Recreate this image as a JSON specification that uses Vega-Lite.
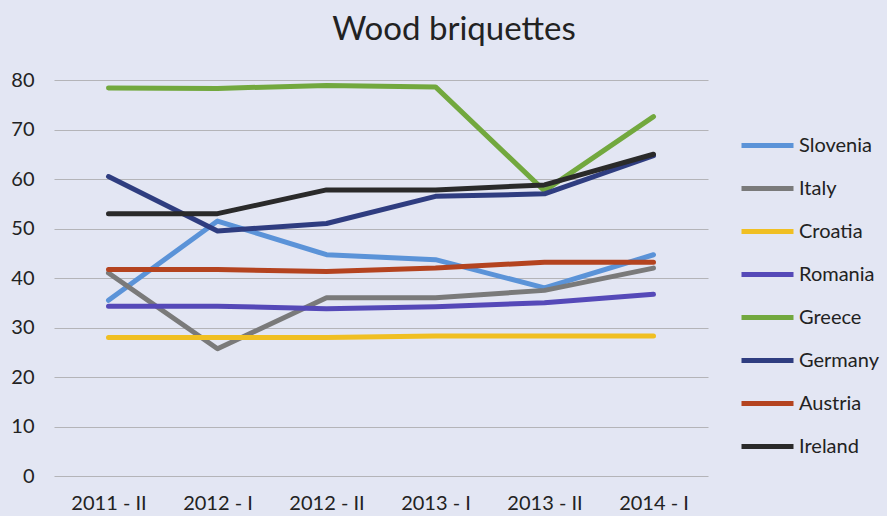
{
  "$schema": "https://vega.github.io/schema/vega-lite/v6.json",
  "autosize": {"type": "none"},
  "width": 654,
  "height": 396,
  "padding": {"left": 54, "top": 80, "right": 179, "bottom": 40},
  "background": "#e3e6f3",
  "title": {
    "text": "Wood briquettes",
    "font": "Lato",
    "fontSize": 33,
    "fontWeight": "normal",
    "color": "#222222",
    "anchor": "middle",
    "dx": 73,
    "offset": 23
  },
  "config": {
    "view": {"stroke": null},
    "font": "Lato"
  },
  "data": {
    "values": [
      {"period": "2011 - II", "country": "Slovenia", "value": 35.5},
      {"period": "2012 - I", "country": "Slovenia", "value": 51.5},
      {"period": "2012 - II", "country": "Slovenia", "value": 44.7},
      {"period": "2013 - I", "country": "Slovenia", "value": 43.7},
      {"period": "2013 - II", "country": "Slovenia", "value": 38},
      {"period": "2014 - I", "country": "Slovenia", "value": 44.7},
      {"period": "2011 - II", "country": "Italy", "value": 41},
      {"period": "2012 - I", "country": "Italy", "value": 25.7},
      {"period": "2012 - II", "country": "Italy", "value": 36},
      {"period": "2013 - I", "country": "Italy", "value": 36},
      {"period": "2013 - II", "country": "Italy", "value": 37.5},
      {"period": "2014 - I", "country": "Italy", "value": 42},
      {"period": "2011 - II", "country": "Croatia", "value": 28},
      {"period": "2012 - I", "country": "Croatia", "value": 28},
      {"period": "2012 - II", "country": "Croatia", "value": 28},
      {"period": "2013 - I", "country": "Croatia", "value": 28.3},
      {"period": "2013 - II", "country": "Croatia", "value": 28.3},
      {"period": "2014 - I", "country": "Croatia", "value": 28.3},
      {"period": "2011 - II", "country": "Romania", "value": 34.3},
      {"period": "2012 - I", "country": "Romania", "value": 34.3},
      {"period": "2012 - II", "country": "Romania", "value": 33.8},
      {"period": "2013 - I", "country": "Romania", "value": 34.2},
      {"period": "2013 - II", "country": "Romania", "value": 35},
      {"period": "2014 - I", "country": "Romania", "value": 36.7},
      {"period": "2011 - II", "country": "Greece", "value": 78.4},
      {"period": "2012 - I", "country": "Greece", "value": 78.3},
      {"period": "2012 - II", "country": "Greece", "value": 78.9},
      {"period": "2013 - I", "country": "Greece", "value": 78.6},
      {"period": "2013 - II", "country": "Greece", "value": 57.6},
      {"period": "2014 - I", "country": "Greece", "value": 72.6},
      {"period": "2011 - II", "country": "Germany", "value": 60.5},
      {"period": "2012 - I", "country": "Germany", "value": 49.5},
      {"period": "2012 - II", "country": "Germany", "value": 51},
      {"period": "2013 - I", "country": "Germany", "value": 56.5},
      {"period": "2013 - II", "country": "Germany", "value": 57},
      {"period": "2014 - I", "country": "Germany", "value": 64.7},
      {"period": "2011 - II", "country": "Austria", "value": 41.7},
      {"period": "2012 - I", "country": "Austria", "value": 41.7},
      {"period": "2012 - II", "country": "Austria", "value": 41.3},
      {"period": "2013 - I", "country": "Austria", "value": 42},
      {"period": "2013 - II", "country": "Austria", "value": 43.2},
      {"period": "2014 - I", "country": "Austria", "value": 43.2},
      {"period": "2011 - II", "country": "Ireland", "value": 53},
      {"period": "2012 - I", "country": "Ireland", "value": 53},
      {"period": "2012 - II", "country": "Ireland", "value": 57.8},
      {"period": "2013 - I", "country": "Ireland", "value": 57.8},
      {"period": "2013 - II", "country": "Ireland", "value": 58.8},
      {"period": "2014 - I", "country": "Ireland", "value": 65}
    ]
  },
  "mark": {"type": "line", "strokeWidth": 5, "strokeCap": "round", "strokeJoin": "round"},
  "encoding": {
    "x": {
      "field": "period",
      "type": "ordinal",
      "sort": null,
      "scale": {"type": "point", "padding": 0.5},
      "axis": {
        "title": null,
        "labelAngle": 0,
        "labelFontSize": 20,
        "labelColor": "#222222",
        "labelPadding": 17,
        "ticks": false,
        "domain": false,
        "grid": false
      }
    },
    "y": {
      "field": "value",
      "type": "quantitative",
      "scale": {"domain": [0, 80], "nice": false},
      "axis": {
        "title": null,
        "values": [0, 10, 20, 30, 40, 50, 60, 70, 80],
        "labelFontSize": 20,
        "labelColor": "#222222",
        "labelPadding": 20,
        "ticks": false,
        "domain": false,
        "grid": true,
        "gridColor": "#b4b4b8",
        "gridWidth": 1.2
      }
    },
    "color": {
      "field": "country",
      "type": "nominal",
      "sort": ["Slovenia", "Italy", "Croatia", "Romania", "Greece", "Germany", "Austria", "Ireland"],
      "scale": {
        "domain": ["Slovenia", "Italy", "Croatia", "Romania", "Greece", "Germany", "Austria", "Ireland"],
        "range": ["#5b93d8", "#7a7a7a", "#f0bf22", "#5549b8", "#72a83e", "#2f3d80", "#b4431f", "#2a2a2a"]
      },
      "legend": {
        "title": null,
        "orient": "none",
        "legendX": 691,
        "legendY": 43,
        "symbolType": "M-1.3,0H1.3",
        "symbolSize": 1600,
        "symbolStrokeWidth": 5,
        "labelFontSize": 20,
        "labelColor": "#222222",
        "labelOffset": 9,
        "rowPadding": 10
      }
    }
  }
}
